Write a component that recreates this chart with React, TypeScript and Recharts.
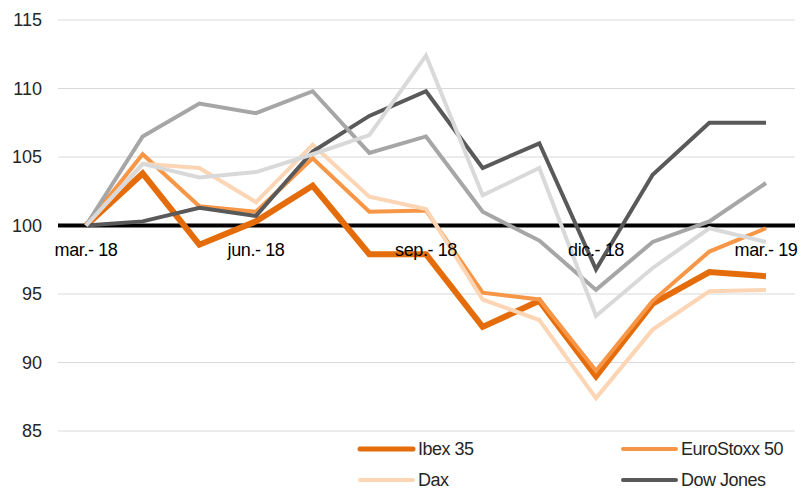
import React from "react";
import {
  LineChart, Line, XAxis, YAxis, CartesianGrid, ReferenceLine, ReferenceDot, Legend,
} from "recharts";

// meses (mar.-18 .. mar.-19), base 100
const MONTHS = [
  "mar.- 18", "abr.- 18", "may.- 18", "jun.- 18", "jul.- 18", "ago.- 18", "sep.- 18",
  "oct.- 18", "nov.- 18", "dic.- 18", "ene.- 19", "feb.- 19", "mar.- 19",
];
const IBEX      = [100, 103.8, 98.6, 100.3, 102.9, 97.9, 97.9, 92.6, 94.5, 89.0, 94.3, 96.6, 96.3];
const EUROSTOXX = [100, 105.2, 101.4, 101.0, 104.9, 101.0, 101.1, 95.1, 94.6, 89.4, 94.5, 98.1, 99.8];
const DAX       = [100, 104.5, 104.2, 101.7, 105.9, 102.1, 101.2, 94.6, 93.1, 87.4, 92.4, 95.2, 95.3];
const DOW       = [100, 100.3, 101.3, 100.7, 105.4, 108.0, 109.8, 104.2, 106.0, 96.8, 103.7, 107.5, 107.5];
const GRIS_1    = [100, 106.5, 108.9, 108.2, 109.8, 105.3, 106.5, 101.0, 98.9, 95.3, 98.8, 100.3, 103.1];
const GRIS_2    = [100, 104.5, 103.5, 103.9, 105.2, 106.6, 112.4, 102.2, 104.2, 93.4, 96.9, 99.8, 98.8];
const Y_TICKS   = [85, 90, 95, 100, 105, 110, 115];
const X_LABELS  = MONTHS.filter((_, i) => i % 3 === 0);

const Y_MIN = 85, Y_MAX = 115, BASE = 100;
const PLOT_TOP = 20, LEGEND_H = 56, H = 488, W = 801;

const FONT = "'Liberation Sans', Arial, sans-serif";

const data = MONTHS.map((m, i) => ({
  mes: m,
  ibex: IBEX[i],
  euro: EUROSTOXX[i],
  dax: DAX[i],
  dow: DOW[i],
  g1: GRIS_1[i],
  g2: GRIS_2[i],
}));

const legendItems = [
  { name: "Ibex 35",      color: "#E46C0A", w: 5, x: 357, y: 17 },
  { name: "EuroStoxx 50", color: "#F79646", w: 4, x: 620, y: 17 },
  { name: "Dax",          color: "#FCD5B5", w: 4, x: 357, y: 48 },
  { name: "Dow Jones",    color: "#595959", w: 4, x: 620, y: 48 },
];

// etiqueta de mes bajo la linea de 100 (encima de las series)
function MonthLabel({ viewBox, value }: any) {
  if (!viewBox) return null;
  const cx = viewBox.x + (viewBox.width || 0) / 2;
  const cy = viewBox.y + (viewBox.height || 0) / 2;
  return (
    <text x={cx} y={cy + 30} textAnchor="middle" fontSize={18} letterSpacing={-0.4}
      fontFamily={FONT} fill="#000">
      {value}
    </text>
  );
}

function ChartLegend() {
  return (
    <div style={{ position: "relative", width: W, height: LEGEND_H }}>
      {legendItems.map((it) => (
        <div key={it.name} style={{ position: "absolute", left: it.x, top: it.y - 11, height: 22, display: "flex", alignItems: "center" }}>
          <svg width={60} height={22}>
            <line x1={3} x2={56} y1={11} y2={11} stroke={it.color} strokeWidth={it.w} strokeLinecap="round" />
          </svg>
          <span style={{ fontFamily: FONT, fontSize: 18, letterSpacing: -0.5, color: "#262626", marginLeft: 1 }}>{it.name}</span>
        </div>
      ))}
    </div>
  );
}

export default function App() {
  return (
    <div style={{ position: "absolute", left: 0, top: 0, width: W, height: H, background: "#fff" }}>
      <LineChart width={W} height={H} data={data} margin={{ top: PLOT_TOP, right: 6, left: 0, bottom: 0 }}>
        <CartesianGrid vertical={false} stroke="#D9D9D9" strokeWidth={1} />
        <XAxis dataKey="mes" height={1} axisLine={false} tickLine={false} tick={false}
          padding={{ left: 28, right: 29 }} />
        <YAxis domain={[Y_MIN, Y_MAX]} ticks={Y_TICKS} width={58} axisLine={false} tickLine={false}
          tickMargin={10} tick={{ fontSize: 18, fill: "#262626", fontFamily: FONT }} />
        <ReferenceLine y={BASE} stroke="#000" strokeWidth={4} />
        <Legend verticalAlign="bottom" content={<ChartLegend />} wrapperStyle={{ left: 0, width: W }} />
        <Line dataKey="ibex" stroke="#E46C0A" strokeWidth={6} dot={false} isAnimationActive={false} />
        <Line dataKey="euro" stroke="#F79646" strokeWidth={4} dot={false} isAnimationActive={false} />
        <Line dataKey="dax" stroke="#FCD5B5" strokeWidth={4} dot={false} isAnimationActive={false} />
        <Line dataKey="dow" stroke="#595959" strokeWidth={4} dot={false} isAnimationActive={false} />
        <Line dataKey="g1" stroke="#A6A6A6" strokeWidth={4} dot={false} isAnimationActive={false} />
        <Line dataKey="g2" stroke="#D9D9D9" strokeWidth={4} dot={false} isAnimationActive={false} />
        {X_LABELS.map((m) => (
          <ReferenceDot key={m} x={m} y={BASE} r={0} fill="none" stroke="none" ifOverflow="visible"
            label={<MonthLabel value={m} />} />
        ))}
      </LineChart>
    </div>
  );
}
